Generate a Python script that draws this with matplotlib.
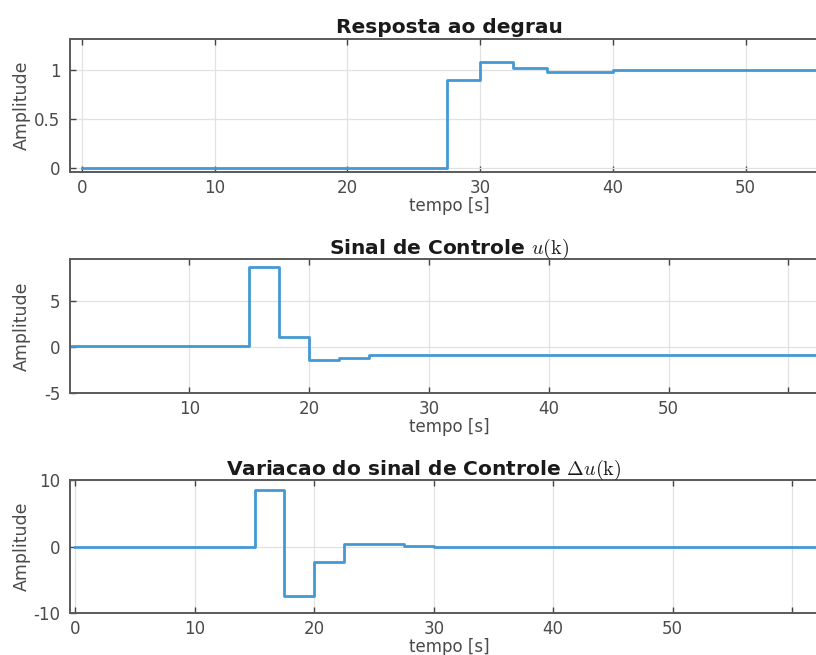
import matplotlib
matplotlib.use("Agg")
import matplotlib.pyplot as plt

# Resposta ao degrau (saida), amostragem de 2.5 s
t_saida = [0, 27.5, 30, 32.5, 35, 40, 65]
y_saida = [0, 0.9, 1.08, 1.02, 0.985, 1.0, 1.0]

# Sinal de controle u(k)
t_u = [0, 15, 17.5, 20, 22.5, 25, 65]
u = [0.1, 8.7, 1.1, -1.45, -1.15, -0.85, -0.85]

# Variacao do sinal de controle
t_du = [0, 15, 17.5, 20, 22.5, 27.5, 30, 65]
du = [0, 8.5, -7.4, -2.3, 0.4, 0.15, 0, 0]

W, H = 816, 655
AZUL = '#4399d5'
CINZA = '#4a4a4a'

plt.rcParams['mathtext.fontset'] = 'cm'
plt.rcParams['font.family'] = 'DejaVu Sans'

fig = plt.figure(figsize=(W / 100, H / 100), dpi=100)


def eixo(topo, base, esq=70, dir=828):
    return fig.add_axes([esq / W, 1 - base / H, (dir - esq) / W, (base - topo) / H])


def estilo(ax, titulo, xlim, ylim, xticks, xlabels, yticks, ylabels, tx=0.5):
    ax.set_xlim(*xlim)
    ax.set_ylim(*ylim)
    ax.set_xticks(xticks)
    ax.set_xticklabels(xlabels)
    ax.set_yticks(yticks)
    ax.set_yticklabels(ylabels)
    ax.grid(True, color='#e2e2e2', lw=0.9)
    ax.set_axisbelow(True)
    for s in ax.spines.values():
        s.set_color('#5a5a5a')
        s.set_linewidth(1.4)
    ax.tick_params(direction='in', top=True, right=True, length=4, width=1,
                   color='#444444', labelsize=12, labelcolor=CINZA)
    ax.tick_params(axis='x', pad=5)
    ax.tick_params(axis='y', pad=7)
    ax.set_xlabel('tempo [s]', fontsize=12, color=CINZA, labelpad=0)
    ax.set_ylabel('Amplitude', fontsize=12.5, color=CINZA)
    ax.yaxis.set_label_coords(-0.052, 0.5)
    ax.set_title(titulo, fontsize=14.5, fontweight='bold', color='#1a1a1a', pad=4, x=tx)


ax1 = eixo(39, 172)
ax1.step(t_saida, y_saida, where='post', color=AZUL, lw=2)
estilo(ax1, 'Resposta ao degrau', (-0.9, 56.2), (-0.04, 1.32),
       [0, 10, 20, 30, 40, 50], ['0', '10', '20', '30', '40', '50'],
       [0, 0.5, 1], ['0', '0.5', '1'])

ax2 = eixo(259, 393)
ax2.step(t_u, u, where='post', color=AZUL, lw=2)
estilo(ax2, r'Sinal de Controle $u(\mathrm{k})$', (0.05, 63.3), (-5, 9.6),
       [10, 20, 30, 40, 50, 60], ['10', '20', '30', '40', '50', ''],
       [-5, 0, 5], ['-5', '0', '5'])

ax3 = eixo(480, 613)
ax3.step(t_du, du, where='post', color=AZUL, lw=2)
estilo(ax3, r'Variacao do sinal de Controle $\Delta u(\mathrm{k})$', (-0.45, 63.0), (-10, 10),
       [0, 10, 20, 30, 40, 50, 60], ['0', '10', '20', '30', '40', '50', ''],
       [-10, 0, 10], ['-10', '0', '10'], tx=0.466)

fig.savefig('out.png', dpi=100)
